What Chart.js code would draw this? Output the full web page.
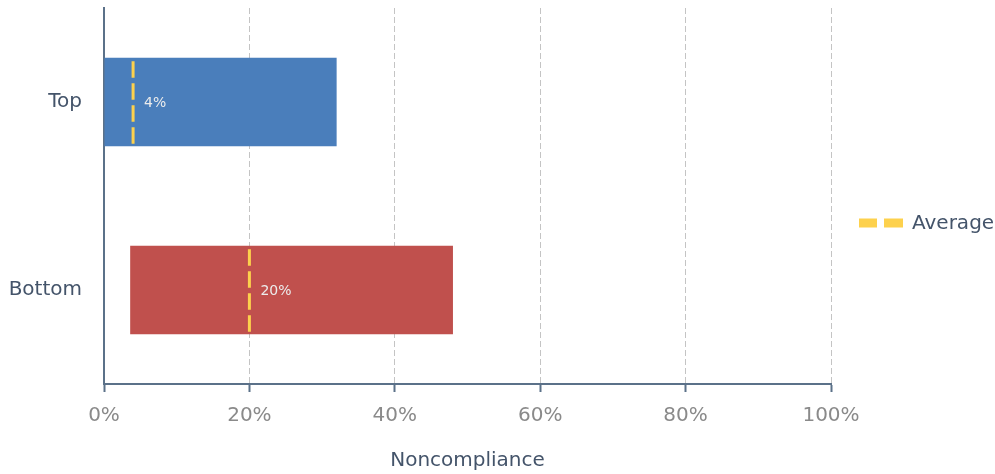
<!DOCTYPE html>
<html>
<head>
<meta charset="utf-8">
<script src="https://cdn.jsdelivr.net/npm/chart.js@4"></script>
<style>
  html, body { margin: 0; padding: 0; background: #fff; }
  #wrap { width: 995px; height: 474px; position: relative; }
</style>
</head>
<body>
<div id="wrap"><canvas id="ncChart"></canvas></div>
<script>
// data
const groups = ['Top', 'Bottom'];
const rangeStart = [0, 3.6];
const rangeEnd = [32, 48];
const averages = [4, 20];
const avgLabels = ['4%', '20%'];
const xTicks = [0, 20, 40, 60, 80, 100];

const barColors = ['#4a7ebb', '#c0504d'];
const avgColor = '#fdd14d';
const slate = '#44546a';
const axisColor = '#5b7189';
const FONT = "'DejaVu Sans', sans-serif";

// yellow dashed average marks + their labels
const averagePlugin = {
  id: 'averageMarks',
  afterDatasetsDraw(chart) {
    const ctx = chart.ctx;
    const xs = chart.scales.x;
    const meta = chart.getDatasetMeta(0);
    meta.data.forEach((bar, i) => {
      const x = xs.getPixelForValue(averages[i]);
      const top = bar.y - bar.height / 2;
      const bottom = bar.y + bar.height / 2;
      ctx.save();
      ctx.strokeStyle = avgColor;
      ctx.lineWidth = 3;
      ctx.setLineDash([16.5, 5.5]);
      ctx.lineDashOffset = 18.5;
      ctx.beginPath();
      ctx.moveTo(x, top);
      ctx.lineTo(x, bottom);
      ctx.stroke();
      ctx.setLineDash([]);
      ctx.fillStyle = '#ececec';
      ctx.font = '14px ' + FONT;
      ctx.textBaseline = 'middle';
      ctx.textAlign = 'left';
      ctx.fillText(avgLabels[i], x + 11, bar.y + 1);
      ctx.restore();
    });
  }
};

// legend on the right: two yellow dashes and "Average"
const legendPlugin = {
  id: 'avgLegend',
  afterDraw(chart) {
    const ctx = chart.ctx;
    const a = chart.chartArea;
    const x0 = a.right + 28;
    const yc = a.top + 215;
    ctx.save();
    ctx.fillStyle = avgColor;
    ctx.fillRect(x0, yc - 4.5, 18, 9);
    ctx.fillRect(x0 + 25, yc - 4.5, 19, 9);
    ctx.fillStyle = slate;
    ctx.font = '20px ' + FONT;
    ctx.textBaseline = 'middle';
    ctx.fillText('Average', x0 + 53, yc + 1);
    ctx.restore();
  }
};

const ctx = document.getElementById('ncChart').getContext('2d');
const ncChart = new Chart(ctx, {
  type: 'bar',
  data: {
    labels: groups,
    datasets: [{
      label: 'Range',
      data: groups.map((g, i) => [rangeStart[i], rangeEnd[i]]),
      backgroundColor: barColors,
      borderWidth: 0,
      borderSkipped: false,
      categoryPercentage: 1,
      barPercentage: 0.47
    }]
  },
  options: {
    indexAxis: 'y',
    responsive: true,
    maintainAspectRatio: false,
    animation: false,
    layout: { padding: { top: 8, left: 8, right: 164, bottom: 1 } },
    plugins: {
      legend: { display: false },
      tooltip: { enabled: false }
    },
    scales: {
      x: {
        min: 0,
        max: 100,
        afterBuildTicks: (scale) => { scale.ticks = xTicks.map(v => ({ value: v })); },
        afterFit: (scale) => { scale.paddingLeft = 0; scale.paddingRight = 0; },
        ticks: {
          color: '#8a8a8a',
          font: { family: FONT, size: 20 },
          padding: 12,
          callback: (v) => v + '%'
        },
        grid: {
          color: (c) => c.tick && c.tick.value === 0 ? 'rgba(0,0,0,0)' : '#c4c4c4',
          lineWidth: 1,
          tickColor: axisColor,
          tickWidth: 2,
          tickLength: 8,
          tickBorderDash: []
        },
        border: { display: true, color: axisColor, width: 2, dash: [6, 3] },
        title: {
          display: true,
          text: 'Noncompliance',
          color: slate,
          font: { family: FONT, size: 20 },
          padding: { top: 9, bottom: 0 }
        }
      },
      y: {
        afterFit: (scale) => { scale.width = 96; scale.paddingTop = 0; scale.paddingBottom = 0; },
        grid: { display: false, drawTicks: false },
        border: { display: true, color: axisColor, width: 2 },
        ticks: {
          color: slate,
          font: { family: FONT, size: 20 },
          padding: 22
        }
      }
    }
  },
  plugins: [averagePlugin, legendPlugin]
});
</script>
</body>
</html>
